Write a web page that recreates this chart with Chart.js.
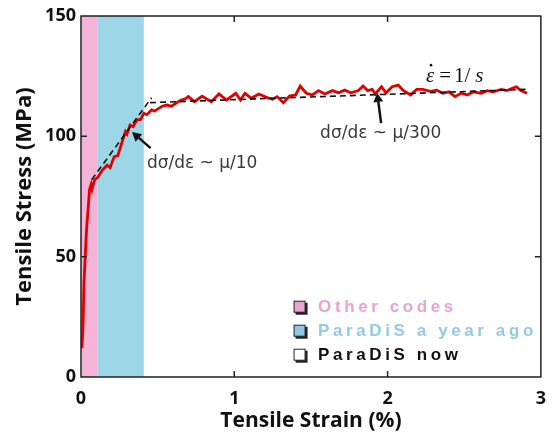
<!DOCTYPE html>
<html>
<head>
<meta charset="utf-8">
<script src="https://cdn.jsdelivr.net/npm/chart.js@4/dist/chart.umd.min.js"></script>
<style>
  html, body { margin: 0; padding: 0; background: #fff; }
  #wrap { width: 557px; height: 439px; }
</style>
</head>
<body>
<div id="wrap"><canvas id="stressChart" width="557" height="439"></canvas></div>
<script>
// Data
const strain = [0.006, 0.013, 0.02, 0.036, 0.056, 0.066, 0.072, 0.08, 0.09, 0.11, 0.14, 0.17, 0.19, 0.216, 0.24,
  0.26, 0.29, 0.30, 0.32, 0.34, 0.365, 0.39, 0.41, 0.43, 0.46, 0.48, 0.51, 0.53, 0.56, 0.59, 0.62, 0.65, 0.68,
  0.70, 0.74, 0.79, 0.85, 0.90, 0.95, 1.01, 1.04, 1.07, 1.11, 1.16, 1.21, 1.25, 1.28, 1.32, 1.36, 1.40, 1.43,
  1.47, 1.51, 1.55, 1.59, 1.64, 1.68, 1.72, 1.76, 1.81, 1.84, 1.87, 1.90, 1.92, 1.96, 1.99, 2.03, 2.07, 2.10,
  2.15, 2.19, 2.23, 2.28, 2.32, 2.36, 2.40, 2.44, 2.48, 2.52, 2.56, 2.61, 2.65, 2.69, 2.74, 2.78, 2.81, 2.84,
  2.87, 2.91];
const stress = [12, 21, 40, 61, 78, 80, 78, 80, 82, 83, 86, 88, 87, 91.5, 92,
  96, 102, 101, 104.7, 104, 106.8, 107, 109.6, 109, 111, 110.5, 111.7, 112.5, 113, 112.5, 113.8, 115, 115.6,
  116.5, 114.4, 116.7, 114.4, 117.6, 115.1, 117.9, 115.1, 117.9, 115.8, 117.6, 116.2, 115.4, 116.5, 114, 116.7, 117.2, 120.9,
  117.9, 117.2, 119, 117.6, 119, 118.1, 119.2, 118.1, 119, 120.9, 119, 119.5, 117.6, 120.6, 118.1, 120.6, 121.3, 119.2,
  117.2, 119.5, 119.5, 118.7, 119.2, 117.9, 118.5, 116.5, 117.9, 117.2, 118.5, 117.9, 119, 118.5, 119.5, 119, 119.9, 120.6,
  119, 117.9];

// fitted slopes (dashed)
const fit1X = [0.07, 0.46];
const fit1Y = [82, 116];
const fit2X = [0.45, 2.9];
const fit2Y = [114, 119.5];

// shaded ranges
const bandEdges = [0, 0.11, 0.41];
const bandColors = ['#f3b4d8', '#9dd6e6'];

const xTicks = [0, 1, 2, 3];
const yTicks = [0, 50, 100, 150];

const legendLabels = ['Other codes', 'ParaDiS a year ago', 'ParaDiS now'];
const legendColors = ['#e9a3cf', '#92cbe0', '#111111'];
const legendFills = ['#e9a3cf', '#8fc8e0', '#ffffff'];

const toPts = (xs, ys) => xs.map((x, i) => ({x: x, y: ys[i]}));

const bandsPlugin = {
  id: 'bands',
  beforeDatasetsDraw(chart) {
    const {ctx, chartArea, scales} = chart;
    ctx.save();
    for (let i = 0; i < bandColors.length; i++) {
      const x0 = scales.x.getPixelForValue(bandEdges[i]);
      const x1 = scales.x.getPixelForValue(bandEdges[i + 1]);
      ctx.fillStyle = bandColors[i];
      ctx.fillRect(x0, chartArea.top, x1 - x0, chartArea.bottom - chartArea.top);
    }
    ctx.restore();
  }
};

function arrow(ctx, x0, y0, x1, y1) {
  // from tail (x0,y0) to tip (x1,y1)
  const ang = Math.atan2(y1 - y0, x1 - x0);
  const hl = 9, hw = 5;
  const bx = x1 - hl * Math.cos(ang), by = y1 - hl * Math.sin(ang);
  ctx.beginPath();
  ctx.moveTo(x0, y0);
  ctx.lineTo(bx, by);
  ctx.stroke();
  ctx.beginPath();
  ctx.moveTo(x1, y1);
  ctx.lineTo(bx + hw * Math.sin(ang), by - hw * Math.cos(ang));
  ctx.lineTo(bx - hw * Math.sin(ang), by + hw * Math.cos(ang));
  ctx.closePath();
  ctx.fill();
}

const decorPlugin = {
  id: 'decor',
  afterDraw(chart) {
    const {ctx, chartArea: a, scales} = chart;
    const sx = v => scales.x.getPixelForValue(v);
    const sy = v => scales.y.getPixelForValue(v);
    ctx.save();

    // frame + inward ticks
    ctx.strokeStyle = '#222';
    ctx.lineWidth = 1.5;
    ctx.strokeRect(a.left, a.top, a.right - a.left, a.bottom - a.top);
    ctx.beginPath();
    [1, 2].forEach(v => {
      ctx.moveTo(sx(v), a.bottom); ctx.lineTo(sx(v), a.bottom - 6);
      ctx.moveTo(sx(v), a.top); ctx.lineTo(sx(v), a.top + 6);
    });
    [50, 100].forEach(v => {
      ctx.moveTo(a.left, sy(v)); ctx.lineTo(a.left + 6, sy(v));
      ctx.moveTo(a.right, sy(v)); ctx.lineTo(a.right - 6, sy(v));
    });
    ctx.stroke();

    // arrows
    ctx.strokeStyle = '#111';
    ctx.fillStyle = '#111';
    ctx.lineWidth = 2.5;
    arrow(ctx, sx(0.454), sy(95.1), sx(0.333), sy(101.8));
    arrow(ctx, sx(1.958), sy(105.5), sx(1.932), sy(118));

    // slope notes
    ctx.fillStyle = '#3a3a3a';
    ctx.font = '17px "DejaVu Sans"';
    ctx.textBaseline = 'middle';
    ctx.textAlign = 'left';
    ctx.fillText('dσ/dε ~ μ/10', sx(0.43), sy(88.5));
    ctx.fillText('dσ/dε ~ μ/300', sx(1.56), sy(101));

    // strain rate
    ctx.fillStyle = '#111';
    let x = sx(2.25);
    const y = sy(125);
    ctx.font = 'italic 21px "Liberation Serif"';
    ctx.fillText('ε', x, y);
    const ew = ctx.measureText('ε').width;
    ctx.beginPath();
    ctx.arc(x + ew * 0.62, y - 11, 1.3, 0, Math.PI * 2);
    ctx.fill();
    x += ew + 5;
    ctx.font = '21px "Liberation Serif"';
    ctx.fillText('=', x, y);
    x += ctx.measureText('=').width + 3;
    ctx.fillText('1/', x, y);
    x += ctx.measureText('1/').width + 5;
    ctx.font = 'italic 21px "Liberation Serif"';
    ctx.fillText('s', x, y);

    // legend
    const lx = sx(1.39), ly0 = sy(29);
    ctx.font = 'bold 17px "Liberation Sans"';
    ctx.letterSpacing = '3.6px';
    legendLabels.forEach((t, i) => {
      const yy = ly0 + i * 24;
      ctx.fillStyle = '#222';
      ctx.fillRect(lx + 1.5, yy - 4.5, 12, 12);
      ctx.fillStyle = legendFills[i];
      ctx.fillRect(lx, yy - 6, 11, 11);
      ctx.strokeStyle = '#222';
      ctx.lineWidth = 1;
      ctx.strokeRect(lx, yy - 6, 11, 11);
      ctx.fillStyle = legendColors[i];
      ctx.fillText(t, lx + 24, yy);
    });
    ctx.restore();
  }
};

new Chart(document.getElementById('stressChart'), {
  type: 'scatter',
  data: {
    datasets: [
      { data: toPts(fit1X, fit1Y), showLine: true, borderColor: '#111', borderWidth: 1.6,
        borderDash: [6, 4], pointRadius: 0, order: 0 },
      { data: toPts(fit2X, fit2Y), showLine: true, borderColor: '#111', borderWidth: 1.6,
        borderDash: [6, 4], pointRadius: 0, order: 0 },
      { data: toPts(strain, stress), showLine: true, borderColor: '#e00000', borderWidth: 2.8,
        pointRadius: 0, tension: 0, order: 1 }
    ]
  },
  options: {
    responsive: false,
    animation: false,
    layout: { padding: { top: 16, right: 7, left: 0, bottom: 0 } },
    plugins: { legend: { display: false }, tooltip: { enabled: false } },
    scales: {
      x: {
        type: 'linear', min: 0, max: 3,
        afterFit: s => { s.height = 62; },
        afterBuildTicks: s => { s.ticks = xTicks.map(v => ({value: v})); },
        grid: { display: false, drawTicks: false },
        border: { display: false },
        ticks: { color: '#111', padding: 11, font: { family: 'Open Sans', size: 18, weight: 'bold' } },
        title: { display: true, text: 'Tensile Strain (%)', color: '#111',
          padding: { top: 0, bottom: 5 }, font: { family: 'Open Sans', size: 21, weight: 'bold' } }
      },
      y: {
        type: 'linear', min: 0, max: 150,
        afterFit: s => { s.width = 81; },
        afterBuildTicks: s => { s.ticks = yTicks.map(v => ({value: v})); },
        grid: { display: false, drawTicks: false },
        border: { display: false },
        ticks: { color: '#111', padding: 5, font: { family: 'Open Sans', size: 18, weight: 'bold' } },
        title: { display: true, text: 'Tensile Stress (MPa)', color: '#111',
          padding: { top: 12, bottom: 0 }, font: { family: 'Open Sans', size: 22, weight: 'bold' } }
      }
    }
  },
  plugins: [bandsPlugin, decorPlugin]
});
</script>
</body>
</html>
